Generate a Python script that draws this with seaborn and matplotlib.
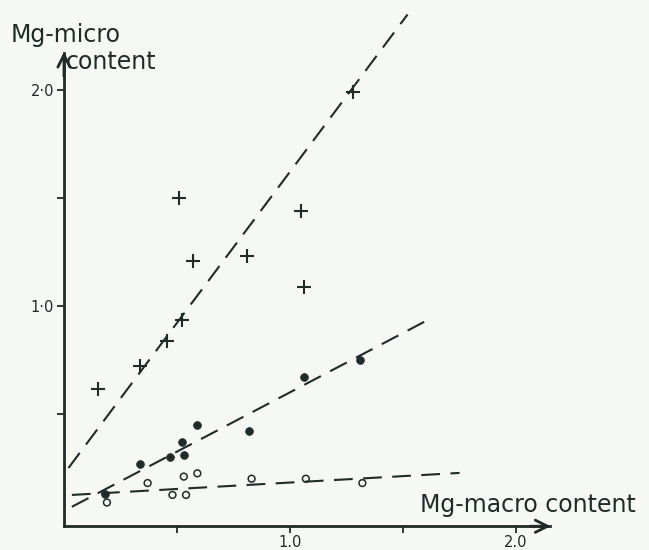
import numpy as np
import pandas as pd
import matplotlib
matplotlib.use('agg')
import matplotlib.pyplot as plt
import seaborn as sns

# Mg-macro vs Mg-micro content
plus_x = [0.15, 0.336, 0.455, 0.52, 0.51, 0.57, 0.81, 1.05, 1.06, 1.28]
plus_y = [0.615, 0.72, 0.84, 0.935, 1.50, 1.21, 1.23, 1.44, 1.09, 1.99]

dot_x = [0.18, 0.336, 0.47, 0.52, 0.53, 0.59, 0.82, 1.06, 1.31]
dot_y = [0.13, 0.27, 0.30, 0.37, 0.31, 0.45, 0.42, 0.67, 0.75]

ring_x = [0.19, 0.37, 0.48, 0.54, 0.53, 0.59, 0.83, 1.07, 1.32]
ring_y = [0.09, 0.18, 0.125, 0.125, 0.21, 0.225, 0.20, 0.20, 0.18]

# dashed trend lines (start / end points)
steep_x = [0.02, 1.52]
steep_y = [0.25, 2.35]
mid_x = [0.035, 1.60]
mid_y = [0.07, 0.93]
flat_x = [0.035, 1.75]
flat_y = [0.125, 0.227]

ink = '#1f2b29'
paper = '#f6f8f3'

sns.set_style("white")
plt.rcParams['font.family'] = ['DejaVu Sans']

fig = plt.figure(figsize=(6.49, 5.5), dpi=100, facecolor=paper)
ax = fig.add_axes([0, 0, 1, 1], facecolor=paper)
ax.set_xlim(-0.283, 2.588)
ax.set_ylim(-0.13, 2.417)

# dashed lines
for lx, ly in [(steep_x, steep_y), (mid_x, mid_y), (flat_x, flat_y)]:
    sns.lineplot(x=lx, y=ly, ax=ax, color=ink, lw=1.5, dashes=False)
for ln in ax.lines:
    ln.set_dashes((9, 5))

# markers
sns.scatterplot(x=plus_x, y=plus_y, ax=ax, marker='+', s=100, color=ink, linewidth=1.5)
sns.scatterplot(x=dot_x, y=dot_y, ax=ax, marker='o', s=32, color=ink, edgecolor=ink)
sns.scatterplot(x=ring_x, y=ring_y, ax=ax, marker='o', s=24, facecolor='none',
                edgecolor=ink, linewidth=1.1)

# axes drawn through the origin
for side in ['top', 'right']:
    ax.spines[side].set_visible(False)
ax.spines['left'].set_position(('data', 0))
ax.spines['bottom'].set_position(('data', -0.02))
ax.spines['left'].set_bounds(-0.02, 2.17)
ax.spines['bottom'].set_bounds(0, 2.15)
for side in ['left', 'bottom']:
    ax.spines[side].set_color(ink)
    ax.spines[side].set_linewidth(2)

ax.annotate('', xy=(2.165, -0.02), xytext=(2.05, -0.02),
            arrowprops=dict(arrowstyle='->', color=ink, lw=2, mutation_scale=22))
ax.annotate('', xy=(0, 2.19), xytext=(0, 2.05),
            arrowprops=dict(arrowstyle='->', color=ink, lw=2, mutation_scale=22))

ax.set_xticks([0.5, 1.0, 1.5, 2.0])
ax.set_xticklabels(['', '1.0', '', '2.0'])
ax.set_yticks([0.5, 1.0, 1.5, 2.0])
ax.set_yticklabels(['', '1·0', '', '2·0'])
ax.tick_params(axis='both', direction='out', length=5, width=1.3, color=ink,
               labelcolor=ink, labelsize=10.5, left=True, bottom=True)
ax.tick_params(axis='x', pad=1)
ax.tick_params(axis='y', pad=2)

ax.text(1.575, 0.08, 'Mg-macro content', fontsize=17, color=ink, va='center', ha='left')
ax.text(-0.235, 2.255, 'Mg-micro', fontsize=17, color=ink, va='center', ha='left')
ax.text(0.01, 2.13, 'content', fontsize=17, color=ink, va='center', ha='left')

fig.savefig('out.png', dpi=100, facecolor=paper)
